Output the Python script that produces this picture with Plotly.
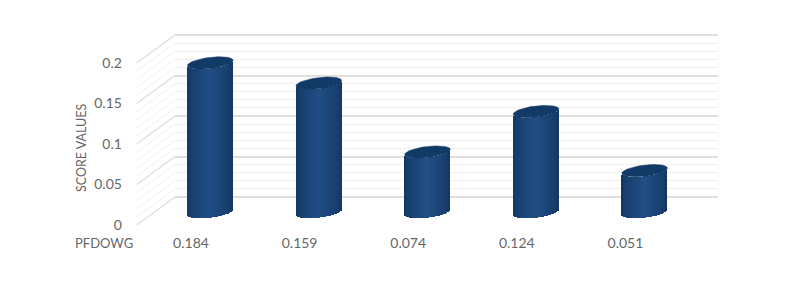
import math
import plotly.graph_objects as go

W, H = 791, 282

categories = ["0.184", "0.159", "0.074", "0.124", "0.051"]
score_values = [0.184, 0.159, 0.074, 0.124, 0.051]
y_ticks = [0, 0.05, 0.1, 0.15, 0.2]
y_tick_labels = ["0", "0.05", "0.1", "0.15", "0.2"]
minor_step = 0.01
x_axis_name = "PFDOWG"
y_axis_name = "SCORE VALUES"

TEXT = "#666666"
FONT = "Lato, Carlito, 'Open Sans', sans-serif"
FS = 14

# Pixel geometry of the pseudo-3D box
F_L, F_R, F_T, F_B = 136.7, 679.7, 63, 225      # front plane
B_L, B_R, B_T, B_B = 175, 718, 35, 197          # back plane
PX_X = (F_R - F_L) / 5
PX_Y = (F_B - F_T) / 0.2
GRID_PAD = 2  # px of extra axis so the first and last gridlines are drawn

def dx(px):
    return px / PX_X

def dy(px):
    return px / PX_Y

def dom_x(a, b):
    return [a / W, b / W]

def dom_y(top, bottom):
    return [(H - bottom) / H, (H - top) / H]

# full-figure axes calibrated on the front plane
fx_range = [-0.5 + dx(0 - F_L), -0.5 + dx(W - F_L)]
fy_range = [dy(F_B - H), dy(F_B)]

fig = go.Figure()

# Back wall (gridlines live on axes x/y)
fig.add_trace(go.Scatter(x=[0], y=[0], xaxis="x", yaxis="y", mode="markers",
                         marker=dict(opacity=0), hoverinfo="skip", showlegend=False))

# Side wall diagonals
DEPTH_X, DEPTH_Y = dx(B_L - F_L), dy(F_B - B_B)
n_lines = int(round(max(y_ticks) / minor_step))
for k in range(n_lines + 1):
    v = k * minor_step
    major = k % 5 == 0
    fig.add_trace(go.Scatter(
        x=[-0.5, -0.5 + DEPTH_X], y=[v, v + DEPTH_Y], xaxis="x2", yaxis="y2",
        mode="lines", line=dict(color="#dfdfdf" if major else "#f0f0f0", width=1.4 if major else 1),
        hoverinfo="skip", showlegend=False))

# Cylinders: vertical gradient strips + top cap
HALF_W = dx(22.8)
ELL_B = dy(5.6)
TILT = dy(2.6)
BAR_DX, BAR_DY = dx(19.2), dy(13)
N = 30

def lerp_color(t):
    # t: 0 at the edge, 1 at the centre
    edge = (19, 54, 98)
    mid = (32, 78, 132)
    t = t ** 0.7
    c = [round(edge[i] + (mid[i] - edge[i]) * t) for i in range(3)]
    return f"rgb({c[0]},{c[1]},{c[2]})"

idx = list(range(len(categories)))
for s in range(N):
    u0 = -1 + 2 * s / N
    u1 = -1 + 2 * (s + 1) / N
    um = (u0 + u1) / 2
    edge_drop = -ELL_B * math.sqrt(max(0, 1 - um * um)) + TILT * um
    fig.add_trace(go.Bar(
        x=[i + BAR_DX for i in idx], y=score_values,
        base=[BAR_DY + edge_drop] * len(idx),
        width=(u1 - u0) * HALF_W * 1.06,
        offset=u0 * HALF_W,
        marker=dict(color=lerp_color(1 - abs(um)), line=dict(width=0)),
        xaxis="x2", yaxis="y2", showlegend=False, hoverinfo="skip"))

for i, v in zip(idx, score_values):
    ts = [2 * math.pi * k / 60 for k in range(61)]
    fig.add_trace(go.Scatter(
        x=[i + BAR_DX + HALF_W * math.cos(t) for t in ts],
        y=[v + BAR_DY + ELL_B * math.sin(t) + TILT * math.cos(t) for t in ts],
        mode="lines", fill="toself", fillcolor="#123a66", line=dict(color="#123a66", width=0.5),
        xaxis="x2", yaxis="y2", showlegend=False, hoverinfo="skip"))

# Front plane axes, carrying labels
fig.add_trace(go.Scatter(x=idx, y=score_values, xaxis="x3", yaxis="y3", mode="markers",
                         marker=dict(opacity=0), hoverinfo="skip", showlegend=False))

off = dict(visible=False, fixedrange=True)
fig.update_layout(
    width=W, height=H, margin=dict(l=0, r=0, t=0, b=0, autoexpand=False),
    paper_bgcolor="white", plot_bgcolor="rgba(0,0,0,0)",
    barmode="overlay", bargap=0,
    font=dict(family=FONT, size=FS, color=TEXT),
    showlegend=False,
    xaxis=dict(domain=dom_x(B_L, B_R), range=[0, 1], showgrid=False, zeroline=False,
               showticklabels=False, ticks="", anchor="y"),
    yaxis=dict(domain=dom_y(B_T - GRID_PAD, B_B + GRID_PAD), range=[-dy(GRID_PAD), 0.2 + dy(GRID_PAD)],
               anchor="x", zeroline=False,
               tickvals=y_ticks, showticklabels=False, ticks="",
               showgrid=True, gridcolor="#dfdfdf", gridwidth=1.5,
               minor=dict(dtick=minor_step, tick0=0, showgrid=True, gridcolor="#f0f0f0", gridwidth=1, ticks="")),
    xaxis2=dict(domain=[0, 1], range=fx_range, anchor="y2", **off),
    yaxis2=dict(domain=[0, 1], range=fy_range, anchor="x2", **off),
    xaxis3=dict(domain=dom_x(F_L, F_R), range=[-0.5, 4.5], anchor="y3", showgrid=False, zeroline=False,
                tickmode="array", tickvals=idx, ticktext=categories,
                ticks="outside", ticklen=5, tickcolor="rgba(0,0,0,0)",
                tickfont=dict(family=FONT, size=FS, color=TEXT)),
    yaxis3=dict(domain=dom_y(F_T, F_B), range=[0, 0.2], anchor="x3", showgrid=False, zeroline=False,
                tickmode="array", tickvals=y_ticks, ticktext=y_tick_labels,
                ticks="outside", ticklen=11, tickcolor="rgba(0,0,0,0)",
                tickfont=dict(family=FONT, size=FS, color=TEXT)),
    annotations=[
        dict(text=x_axis_name, xref="paper", yref="paper", x=104 / W, y=(H - 243) / H,
             showarrow=False, xanchor="center", yanchor="middle", font=dict(family=FONT, size=FS - 1, color=TEXT)),
        dict(text=y_axis_name, xref="paper", yref="paper", x=81 / W, y=(H - 148) / H, textangle=-90,
             showarrow=False, xanchor="center", yanchor="middle", font=dict(family=FONT, size=FS - 1.5, color=TEXT)),
    ],
)
fig.write_html("out.html", config={"displayModeBar": False},
               post_script="document.body.style.margin='0';document.body.style.overflow='hidden';")
